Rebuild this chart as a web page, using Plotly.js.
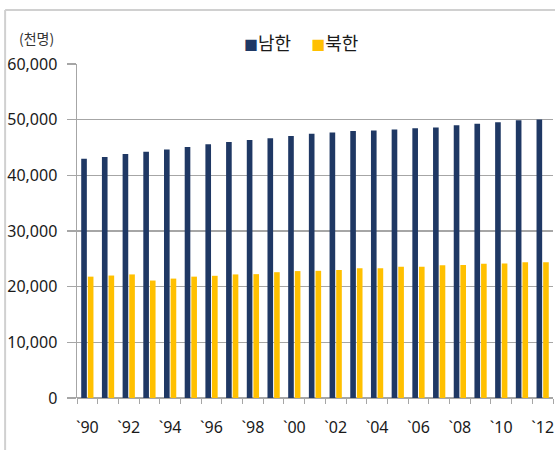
<!DOCTYPE html>
<html>
<head>
<meta charset="utf-8">
<script src="https://cdn.plot.ly/plotly-3.0.1.min.js"></script>
<style>
html,body{margin:0;padding:0;background:#fff;}
#chart{width:555px;height:450px;}
</style>
</head>
<body>
<div id="chart"></div>
<script>
// Data (thousand persons)
const categories = ['1990','1991','1992','1993','1994','1995','1996','1997','1998','1999','2000','2001','2002','2003','2004','2005','2006','2007','2008','2009','2010','2011','2012'];
const xTickLabels = ['`90','','`92','','`94','','`96','','`98','','`00','','`02','','`04','','`06','','`08','','`10','','`12'];
const southKorea = [43000, 43300, 43850, 44250, 44650, 45100, 45600, 46000, 46350, 46650, 47050, 47450, 47700, 47950, 48050, 48250, 48450, 48600, 49000, 49250, 49550, 49900, 50050];
const northKorea = [21800, 22000, 22200, 21100, 21450, 21800, 21950, 22200, 22250, 22600, 22800, 22850, 23000, 23300, 23300, 23600, 23600, 23850, 23900, 24100, 24150, 24400, 24400];
const seriesNames = ['남한', '북한'];
const seriesColors = ['#1f3864', '#ffc000'];
const unitLabel = '(천명)';

const fontFam = '"Noto Sans CJK KR", "Noto Sans", sans-serif';
const numFam = '"Noto Sans", "Open Sans", sans-serif';

const traces = [
  {type:'bar', name:seriesNames[0], x:categories, y:southKorea, marker:{color:seriesColors[0]}},
  {type:'bar', name:seriesNames[1], x:categories, y:northKorea, marker:{color:seriesColors[1]}}
];

const legendText = seriesNames.map((n,i) =>
  '<span style="color:' + seriesColors[i] + ';font-size:14px">■</span>' + n).join('&nbsp;&nbsp;&nbsp;&nbsp;&nbsp;');

const layout = {
  width:555, height:450,
  margin:{l:77, r:2, t:64, b:52},
  paper_bgcolor:'#ffffff', plot_bgcolor:'#ffffff',
  barmode:'group', bargap:0.36, bargroupgap:0.15,
  font:{family:fontFam, color:'#1a1a1a', size:16},
  showlegend:false,
  xaxis:{
    type:'category', tickmode:'array', tickvals:categories, ticktext:xTickLabels,
    tickson:'boundaries', ticks:'outside', ticklen:5, tickcolor:'#a6a6a6', tickwidth:1,
    ticklabelstandoff:18, tickangle:0,
    showline:false, showgrid:false, zeroline:false,
    tickfont:{family:numFam, size:16, color:'#1a1a1a'}
  },
  yaxis:{
    range:[0,60000], tickvals:[0,10000,20000,30000,40000,50000,60000],
    tickformat:',d', ticks:'outside', ticklen:9, tickcolor:'#a6a6a6', tickwidth:1.5,
    ticklabelstandoff:6,
    showgrid:true, gridcolor:'#a6a6a6', gridwidth:1.5,
    showline:true, linecolor:'#a6a6a6', linewidth:1.5,
    zeroline:true, zerolinecolor:'#a6a6a6', zerolinewidth:1.5,
    tickfont:{family:numFam, size:16, color:'#1a1a1a'}
  },
  annotations:[
    {text:unitLabel, xref:'paper', yref:'paper', x:-0.085, y:1.078, xanchor:'center', yanchor:'middle',
     showarrow:false, font:{family:fontFam, size:14, color:'#333'}},
    {text:legendText, xref:'paper', yref:'paper', x:0.47, y:1.066, xanchor:'center', yanchor:'middle',
     showarrow:false, font:{family:fontFam, size:18, color:'#1a1a1a'}}
  ],
  shapes:[
    {type:'line', xref:'paper', yref:'paper', x0:-0.151, x1:1.3, y0:1.1617, y1:1.1617,
     line:{color:'#d0d0d0', width:2}, layer:'below'},
    {type:'line', xref:'paper', yref:'paper', x0:-0.151, x1:-0.151, y0:-0.3, y1:1.1617,
     line:{color:'#d0d0d0', width:2}, layer:'below'}
  ]
};

Plotly.newPlot('chart', traces, layout, {displayModeBar:false, staticPlot:true});
</script>
</body>
</html>
